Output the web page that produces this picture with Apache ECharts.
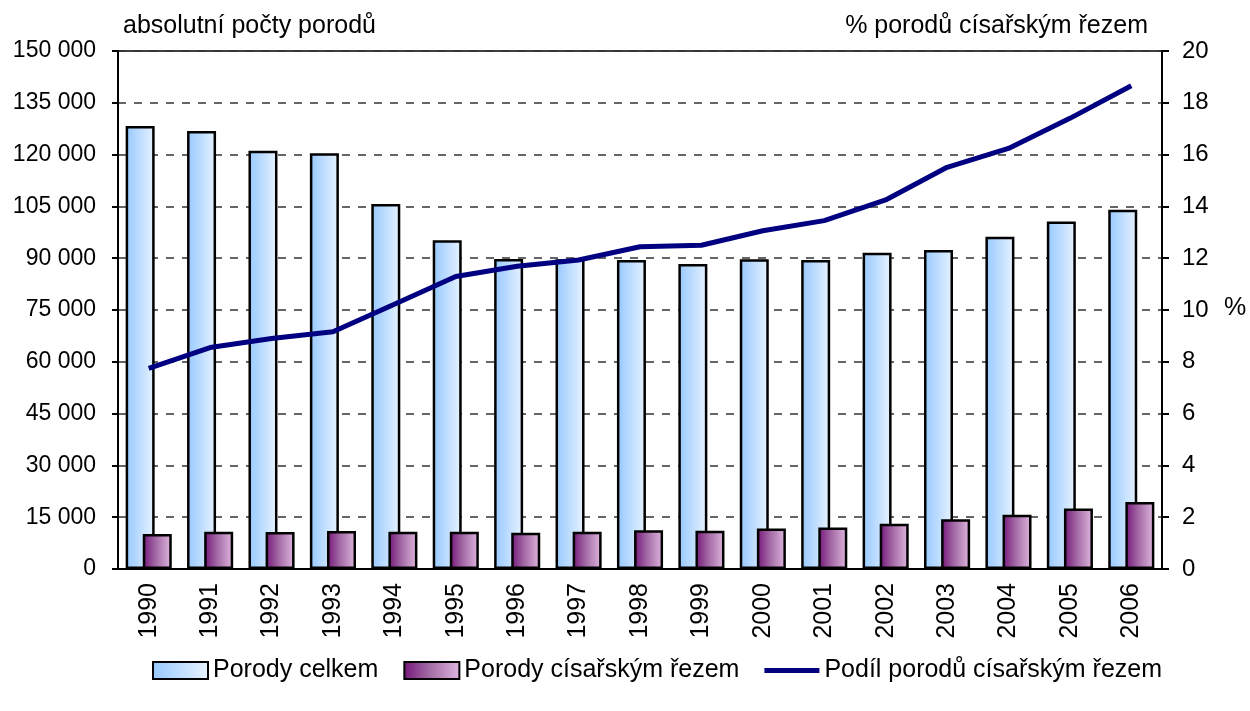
<!DOCTYPE html>
<html>
<head>
<meta charset="utf-8">
<title>Porody</title>
<script src="https://cdn.jsdelivr.net/npm/echarts@6/dist/echarts.min.js"></script>
<style>
  html, body { margin: 0; padding: 0; background: #fff; }
  #main { width: 1250px; height: 711px; }
</style>
</head>
<body>
<div id="main"></div>
<script>
var roky = ['1990', '1991', '1992', '1993', '1994', '1995', '1996', '1997', '1998',
  '1999', '2000', '2001', '2002', '2003', '2004', '2005', '2006'];
var porodyCelkem = [128300, 126800, 121100, 120400, 105700, 95200, 89800, 89700, 89500,
  88300, 89700, 89500, 91600, 92400, 96200, 100600, 104000];
var porodyCisar = [10100, 10800, 10700, 11000, 10800, 10800, 10500, 10800, 11200,
  11100, 11700, 12000, 13100, 14400, 15700, 17500, 19400];
var podilCisar = [7.75, 8.55, 8.9, 9.16, 10.22, 11.29, 11.69, 11.93, 12.44,
  12.5, 13.06, 13.45, 14.25, 15.51, 16.24, 17.4, 18.66];

var font = 'Liberation Sans, Arial, sans-serif';
var fs = 25;

var chart = echarts.init(document.getElementById('main'));

var option = {
  animation: false,
  textStyle: { fontFamily: font, color: '#000' },
  grid: {
    left: 118,
    right: 88,
    top: 51,
    bottom: 142,
    show: true,
    borderColor: '#000',
    borderWidth: 1.5
  },
  legend: {
    bottom: 23,
    left: 147,
    itemWidth: 55,
    itemHeight: 17,
    itemGap: 25,
    textStyle: { fontSize: fs, color: '#000' },
    data: [
      { name: 'Porody celkem', icon: 'rect' },
      { name: 'Porody císařským řezem', icon: 'rect' },
      // jen čára, bez kolečka
      { name: 'Podíl porodů císařským řezem', icon: 'path://M0,0 L55,0 L55,5 L0,5 Z' }
    ]
  },
  xAxis: {
    type: 'category',
    data: roky,
    axisLine: { lineStyle: { color: '#000', width: 2 } },
    axisTick: { length: 8, lineStyle: { color: '#000', width: 2 } },
    axisLabel: { rotate: 90, fontSize: fs, color: '#000', margin: 14 }
  },
  yAxis: [
    {
      type: 'value',
      min: 0,
      max: 150000,
      interval: 15000,
      name: 'absolutní počty porodů',
      nameLocation: 'end',
      nameGap: 12,
      nameTextStyle: { fontSize: fs, color: '#000', align: 'left', padding: [0, 0, 0, 5] },
      axisLine: { show: true, lineStyle: { color: '#000', width: 2 } },
      axisTick: { show: true, length: 6, lineStyle: { color: '#000', width: 2 } },
      axisLabel: {
        fontSize: 23,
        color: '#000',
        margin: 22,
        formatter: function (v) {
          return String(v).replace(/\B(?=(\d{3})+(?!\d))/g, ' ');
        }
      },
      splitLine: { lineStyle: { color: '#333', width: 1.5, type: [8, 8] } }
    },
    {
      type: 'value',
      min: 0,
      max: 20,
      interval: 2,
      position: 'right',
      name: '% porodů císařským řezem',
      nameLocation: 'end',
      nameGap: 12,
      nameTextStyle: { fontSize: fs, color: '#000', align: 'right', padding: [0, 14, 0, 0] },
      axisLine: { show: true, lineStyle: { color: '#000', width: 2 } },
      axisTick: { show: true, length: 7, lineStyle: { color: '#000', width: 2 } },
      axisLabel: { fontSize: 24, color: '#000', margin: 20 },
      splitLine: { show: false }
    }
  ],
  graphic: [{
    type: 'text',
    left: 1224,
    top: 296,
    style: { text: '%', fontSize: fs, fontFamily: font, fill: '#000' }
  }],
  series: [
    {
      name: 'Porody celkem',
      type: 'bar',
      data: porodyCelkem,
      barWidth: 29,
      barGap: '-41%',
      itemStyle: {
        color: new echarts.graphic.LinearGradient(0, 0, 1, 0, [
          { offset: 0, color: '#96c8ff' },
          { offset: 1, color: '#e8f3ff' }
        ]),
        borderColor: '#000',
        borderWidth: 2.5
      },
      z: 2
    },
    {
      name: 'Porody císařským řezem',
      type: 'bar',
      data: porodyCisar,
      barWidth: 29,
      itemStyle: {
        color: new echarts.graphic.LinearGradient(0, 0, 1, 0, [
          { offset: 0, color: '#75157a' },
          { offset: 0.45, color: '#a36aa5' },
          { offset: 1, color: '#e0b8e0' }
        ]),
        borderColor: '#000',
        borderWidth: 2.5
      },
      z: 3
    },
    {
      name: 'Podíl porodů císařským řezem',
      type: 'line',
      yAxisIndex: 1,
      data: podilCisar,
      symbol: 'none',
      lineStyle: { color: '#000080', width: 5 },
      itemStyle: { color: '#000080' },
      z: 4
    }
  ]
};

chart.setOption(option);
</script>
</body>
</html>
